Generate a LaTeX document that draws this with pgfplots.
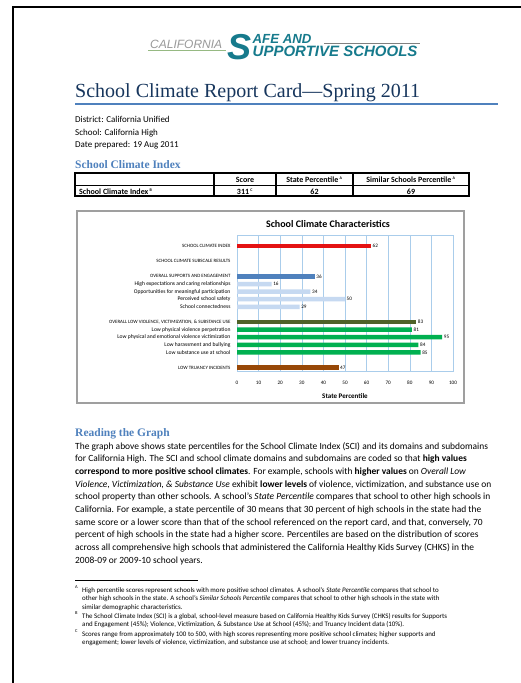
\documentclass[border=0pt]{standalone}
\usepackage{fontspec}
\setmainfont{Carlito}
\newfontfamily\headfont{Liberation Serif}
\newfontfamily\logofont{Liberation Sans}
\usepackage{pgfplots}
\pgfplotsset{compat=1.18}

\definecolor{titleblue}{RGB}{23,54,93}
\definecolor{headblue}{RGB}{79,129,189}
\definecolor{teal}{RGB}{22,122,140}
\definecolor{logogreen}{RGB}{150,185,130}
\definecolor{gridblue}{RGB}{170,205,235}
\definecolor{scired}{RGB}{228,18,18}
\definecolor{supblue}{RGB}{79,129,189}
\definecolor{sublight}{RGB}{198,217,241}
\definecolor{vicolive}{RGB}{79,98,40}
\definecolor{subgreen}{RGB}{0,176,80}
\definecolor{truancy}{RGB}{151,72,7}

% caps labels of the chart are set a little smaller
\newcommand{\cp}[1]{{\fontsize{4.9}{6}\selectfont #1}}

\begin{document}
\begin{tikzpicture}
\useasboundingbox (0pt,0pt) rectangle (521pt,-683pt);
\fill[white] (0pt,0pt) rectangle (521pt,-683pt);
\begin{scope}[x=1pt,y=-1pt]
% page edge
\draw[line width=2pt] (13,684) -- (13,7) -- (522,7);

% logo
\draw[line width=1pt, logogreen] (148,50.7) -- (226,50.7);
\draw[line width=0.7pt, gray] (324,43) -- (420,43);
\node[anchor=base west, inner sep=0, font=\logofont\itshape\fontsize{12}{12}\selectfont, text=gray!80] at (150,48) {CALIFORNIA};
\node[anchor=base west, inner sep=0, font=\logofont\bfseries\itshape\fontsize{36}{36}\selectfont, text=teal] at (227,59) {S};
\node[anchor=base west, inner sep=0, align=left, font=\logofont\bfseries\itshape\fontsize{15}{13}\selectfont, text=teal] at (252.5,56)
    {{\fontsize{13.2}{13}\selectfont AFE AND}\\UPPORTIVE SCHOOLS};

% title
\node[anchor=base west, inner sep=0, font=\headfont\fontsize{20}{20}\selectfont, text=titleblue] at (75,97) {School Climate Report Card—Spring 2011};
\draw[line width=2pt, headblue] (75,104) -- (498,104);

\node[anchor=base west, inner sep=0, font=\fontsize{9}{9}\selectfont] at (75,122) {District: California Unified};
\node[anchor=base west, inner sep=0, font=\fontsize{9}{9}\selectfont] at (75,135) {School: California High};
\node[anchor=base west, inner sep=0, font=\fontsize{9}{9}\selectfont] at (75,147) {Date prepared: 19 Aug 2011};

\node[anchor=base west, inner sep=0, font=\headfont\bfseries\fontsize{11.5}{11.5}\selectfont, text=headblue] at (75,168) {School Climate Index};

% index table
\draw[line width=1.5pt] (75,173) rectangle (469,196);
\draw[line width=0.6pt] (75,185) -- (469,185);
\draw[line width=1.3pt] (214,173) -- (214,196);
\draw[line width=1.3pt] (276,173) -- (276,196);
\draw[line width=1.3pt] (353,173) -- (353,196);
\begin{scope}[every node/.style={inner sep=0, font=\bfseries\fontsize{8}{8}\selectfont}]
\node[anchor=base] at (245,182) {Score};
\node[anchor=base] at (314.5,182) {State Percentile\,\textsuperscript{\fontsize{4}{4}\selectfont A}};
\node[anchor=base] at (411,182) {Similar Schools Percentile\,\textsuperscript{\fontsize{4}{4}\selectfont A}};
\node[anchor=base west] at (79,194) {School Climate Index\,\textsuperscript{\fontsize{4}{4}\selectfont B}};
\node[anchor=base] at (245,194) {311\,\textsuperscript{\fontsize{4}{4}\selectfont C}};
\node[anchor=base] at (314.5,194) {62};
\node[anchor=base] at (411,194) {69};
\end{scope}

% chart frame and title
\draw[line width=1.2pt, gray!75] (77,211) rectangle (464,403);
\node[inner sep=0, font=\bfseries\fontsize{10}{10}\selectfont] at (328,224) {School Climate Characteristics};

% reading the graph
\node[anchor=base west, inner sep=0, font=\headfont\bfseries\fontsize{11.5}{11.5}\selectfont, text=headblue] at (75,436) {Reading the Graph};
\begin{scope}[every node/.style={anchor=base west, inner sep=0, font=\fontsize{9.45}{9.45}\selectfont}]
\node at (75,449) {The graph above shows state percentiles for the School Climate Index (SCI) and its domains and subdomains};
\node at (75,461.7) {for California High. The SCI and school climate domains and subdomains are coded so that \textbf{high values}};
\node at (75,474.4) {\textbf{correspond to more positive school climates}. For example, schools with \textbf{higher values} on \textit{Overall Low}};
\node at (75,487.1) {\textit{Violence, Victimization, \& Substance Use} exhibit \textbf{lower levels} of violence, victimization, and substance use on};
\node at (75,499.8) {school property than other schools. A school’s \textit{State Percentile} compares that school to other high schools in};
\node at (75,512.5) {California. For example, a state percentile of 30 means that 30 percent of high schools in the state had the};
\node at (75,525.2) {same score or a lower score than that of the school referenced on the report card, and that, conversely, 70};
\node at (75,537.9) {percent of high schools in the state had a higher score. Percentiles are based on the distribution of scores};
\node at (75,550.6) {across all comprehensive high schools that administered the California Healthy Kids Survey (CHKS) in the};
\node at (75,563.3) {2008-09 or 2009-10 school years.};
\end{scope}

% footnotes
\draw[line width=1pt] (75,580) -- (198,580);
\begin{scope}[every node/.style={anchor=base west, inner sep=0, font=\fontsize{6.9}{6.9}\selectfont}]
\node[font=\fontsize{4.5}{4.5}\selectfont] at (75,588) {A};
\node at (82,592) {High percentile scores represent schools with more positive school climates. A school’s \textit{State Percentile} compares that school to};
\node at (82,600.5) {other high schools in the state. A school’s \textit{Similar Schools Percentile} compares that school to other high schools in the state with};
\node at (82,609) {similar demographic characteristics.};
\node[font=\fontsize{4.5}{4.5}\selectfont] at (75,614) {B};
\node at (82,618) {The School Climate Index (SCI) is a global, school-level measure based on California Healthy Kids Survey (CHKS) results for Supports};
\node at (82,626.5) {and Engagement (45\%); Violence, Victimization, \& Substance Use at School (45\%); and Truancy Incident data (10\%).};
\node[font=\fontsize{4.5}{4.5}\selectfont] at (75,632) {C};
\node at (82,636) {Scores range from approximately 100 to 500, with high scores representing more positive school climates; higher supports and};
\node at (82,644.5) {engagement; lower levels of violence, victimization, and substance use at school; and lower truancy incidents.};
\end{scope}
\end{scope}

\begin{axis}[
    at={(237pt,-235pt)}, anchor=north west,
    scale only axis, width=216pt, height=136pt,
    xmin=0, xmax=100, ymin=-1.45, ymax=16.45, y dir=reverse,
    xtick={0,10,...,100},
    ytick={0,2,4,5,6,7,8,10,11,12,13,14,16},
    yticklabels={\cp{SCHOOL CLIMATE INDEX}, \cp{SCHOOL CLIMATE SUBSCALE RESULTS},
        \cp{OVERALL SUPPORTS AND ENGAGEMENT},
        High expectations and caring relationships,
        Opportunities for meaningful participation,
        Perceived school safety, School connectedness,
        {\cp{OVERALL LOW VIOLENCE, VICTIMIZATION, \& SUBSTANCE USE}},
        Low physical violence perpetration,
        Low physical and emotional violence victimization,
        Low harassment and bullying, Low substance use at school,
        \cp{LOW TRUANCY INCIDENTS}},
    major tick length=0pt,
    xmajorgrids, grid style={gridblue, line width=0.6pt},
    axis line style={gridblue, line width=0.6pt},
    xticklabel style={font=\fontsize{5.2}{6}\selectfont, yshift=-6.5pt},
    yticklabel style={font=\fontsize{5.6}{6}\selectfont, xshift=-3pt},
    /pgf/number format/assume math mode=true,
    xlabel={\textbf{State Percentile}},
    xlabel style={font=\fontsize{7}{8}\selectfont, at={(axis description cs:0.5,0)}, anchor=center, yshift=-25pt},
    xbar, bar width=4.5pt, bar shift=0pt,
    nodes near coords,
    nodes near coords style={font=\fontsize{5.2}{6}\selectfont, anchor=west, inner sep=1.5pt},
    clip=false,
]
\addplot[fill=scired, draw=none] coordinates {(62,0)};
\addplot[fill=supblue, draw=none] coordinates {(36,4)};
\addplot[fill=sublight, draw=none] coordinates {(16,5) (34,6) (50,7) (29,8)};
\addplot[fill=vicolive, draw=none] coordinates {(83,10)};
\addplot[fill=subgreen, draw=none] coordinates {(81,11) (95,12) (84,13) (85,14)};
\addplot[fill=truancy, draw=none] coordinates {(47,16)};
\end{axis}
\end{tikzpicture}
\end{document}
